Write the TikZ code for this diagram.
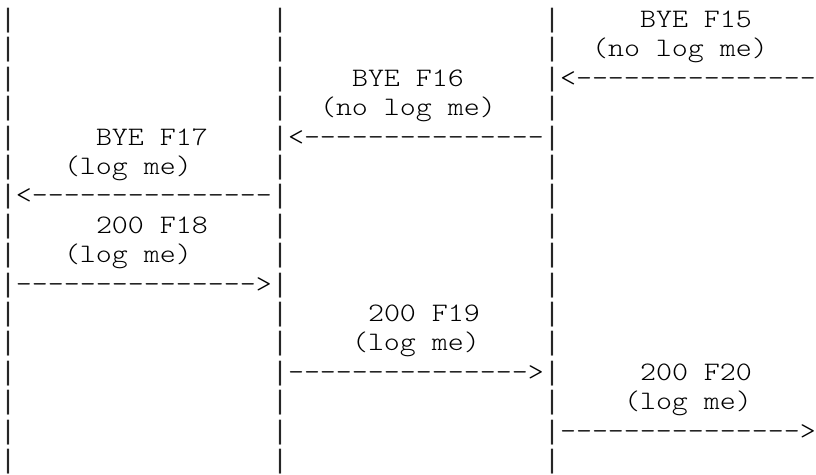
\documentclass[tikz,border=0pt]{standalone}
\usepackage{fontspec}
\newfontfamily\asciifont[Ligatures=TeXOff,FakeStretch=1.1429]{Latin Modern Mono Light}
\newfontfamily\barfont[Ligatures=TeXOff]{Liberation Mono}
\tikzset{
  asc/.style={anchor=base west, inner sep=0pt, outer sep=0pt,
    font=\asciifont\fontsize{26.66pt}{29.4pt}\selectfont, text=black},
  barch/.style={anchor=base west, inner sep=0pt, outer sep=0pt,
    font=\barfont\fontsize{26.66pt}{29.4pt}\selectfont, text=black!85},
}
\begin{document}
\begin{tikzpicture}[x=16pt,y=-29.4pt]
% baseline of row k at 27.5pt + 29.4pt*k
\path[use as bounding box] (0,-0.9354) rectangle (51,15.1871);
\foreach \k in {0,...,15}{
  \foreach \c in {0,17,34}{
    \node[barch] (bar\c-\k) at (\c,\k) {|};
  }
}
% BYE F15
\node[asc] (f15a) at (40,0) {BYE F15};
\node[asc] (f15b) at (37,1) {(no log me)};
\node[asc] (f15)  at (35,2) {<---------------};
% BYE F16
\node[asc] (f16a) at (22,2) {BYE F16};
\node[asc] (f16b) at (20,3) {(no log me)};
\node[asc] (f16)  at (18,4) {<---------------};
% BYE F17
\node[asc] (f17a) at (6,4) {BYE F17};
\node[asc] (f17b) at (4,5) {(log me)};
\node[asc] (f17)  at (1,6) {<---------------};
% 200 F18
\node[asc] (f18a) at (6,7) {200 F18};
\node[asc] (f18b) at (4,8) {(log me)};
\node[asc] (f18)  at (1,9) {--------------->};
% 200 F19
\node[asc] (f19a) at (23,10) {200 F19};
\node[asc] (f19b) at (22,11) {(log me)};
\node[asc] (f19)  at (18,12) {--------------->};
% 200 F20
\node[asc] (f20a) at (40,12) {200 F20};
\node[asc] (f20b) at (39,13) {(log me)};
\node[asc] (f20)  at (35,14) {--------------->};
\end{tikzpicture}
\end{document}
